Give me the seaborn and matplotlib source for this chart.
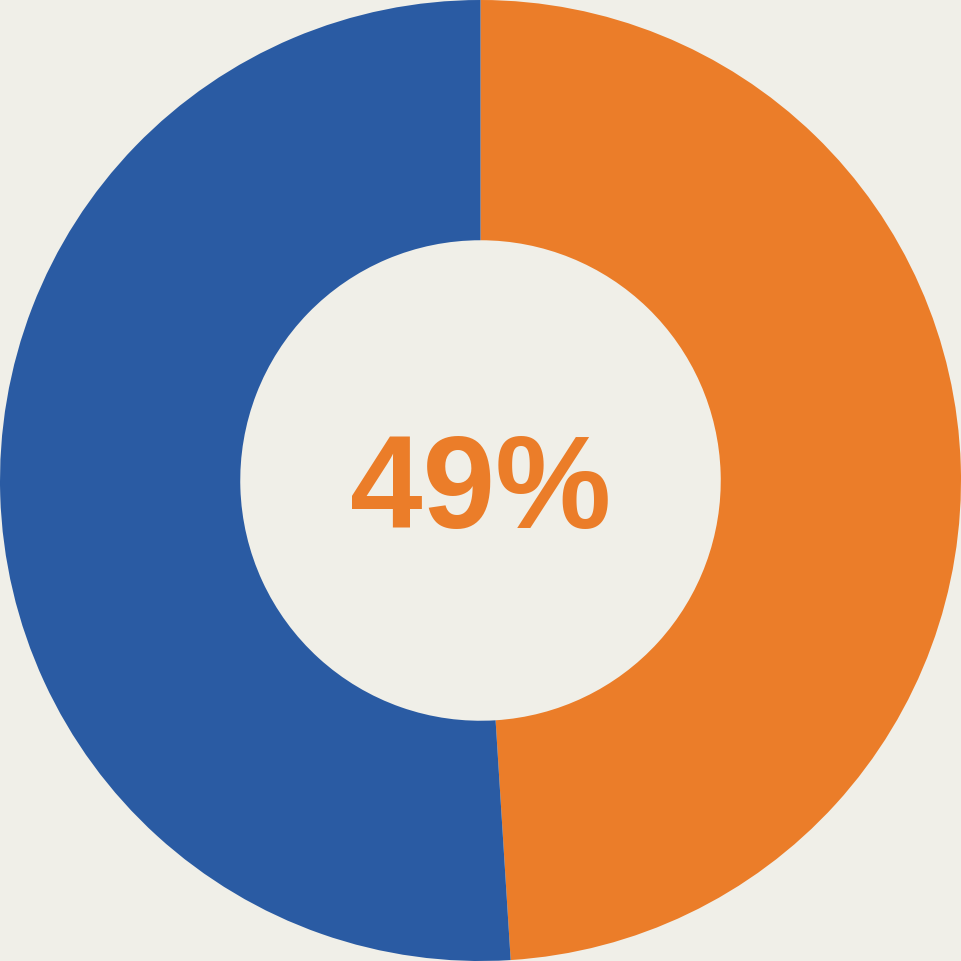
import matplotlib
matplotlib.use("Agg")
import matplotlib.pyplot as plt
import seaborn as sns

# share of the two groups (percent)
labels = ["Yes", "No"]
values = [49, 51]
colors = ["#EB7D29", "#2A5BA3"]
center_label = "49%"

bg = "#F0EFE8"

sns.set_theme(style="white")
plt.rcParams["font.family"] = ["Liberation Sans", "DejaVu Sans"]

fig = plt.figure(figsize=(9.61, 9.61), dpi=100, facecolor=bg)
ax = fig.add_axes([0, 0, 1, 1])
ax.set_facecolor(bg)

# donut, starting at 12 o'clock and going clockwise
ax.pie(values, labels=None, colors=colors, startangle=90, counterclock=False,
       radius=1.0, wedgeprops=dict(width=0.5, edgecolor="none", linewidth=0))

ax.text(0, -0.028, center_label, ha="center", va="center", fontsize=94,
        fontweight="bold", color=colors[0])

ax.set_xlim(-1.0, 1.0)
ax.set_ylim(-1.0, 1.0)
ax.set_aspect("equal")
ax.axis("off")

fig.savefig("out.png", dpi=100, facecolor=bg)
